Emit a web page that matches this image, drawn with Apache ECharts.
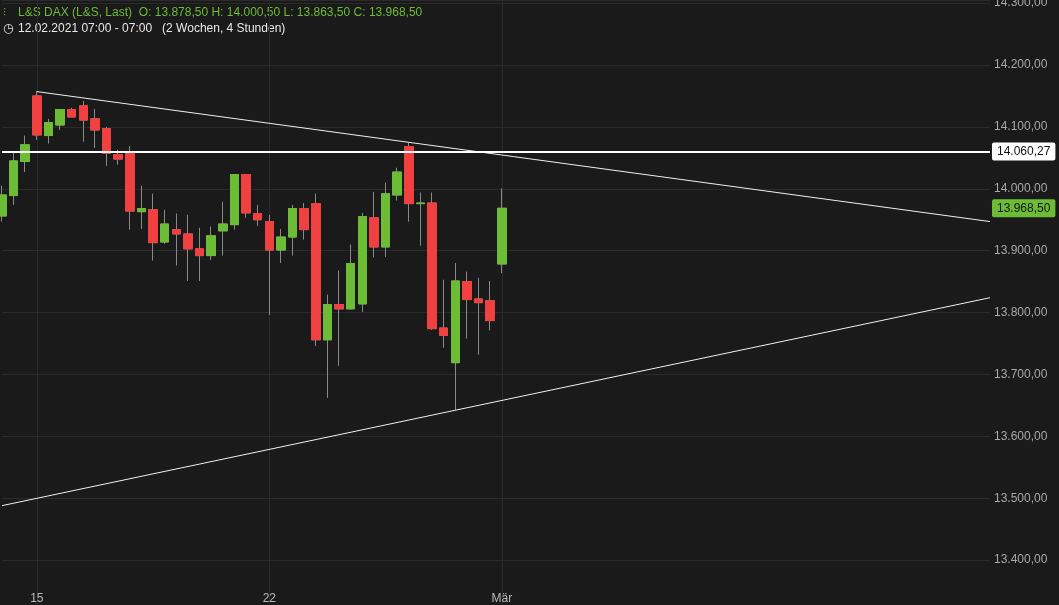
<!DOCTYPE html>
<html>
<head>
<meta charset="utf-8">
<script src="https://cdn.jsdelivr.net/npm/echarts@6/dist/echarts.min.js"></script>
<style>
html,body{margin:0;padding:0;background:#1a1a1a;}
#main{width:1059px;height:605px;}
</style>
</head>
<body>
<div id="main"></div>
<script>
// 4h candles, L&S DAX, 12.02.2021 - 01.03.2021
var days = ['12', '15', '16', '17', '18', '19', '22', '23', '24', '25', '26', 'Mär'];
var dayLabels = { '15': '15', '22': '22', 'Mär': 'Mär' };
var opens  = [13956,13989,14044, 14150,14086,14103,14128, 14134,14113,14097,14055, 14060,13963,13966,13914, 13934,13927,13903,13892, 13932,13942,14023,13960, 13947,13901,13922,13968, 13976,13756,13813,13806, 13814,13953,13906,13990, 14068,13976,13977,13775, 13719,13850,13822,13819, 13878.5];
var closes = [13990,14045,14071, 14087,14107,14128,14116, 14111,14095,14057,14048, 13964,13968,13913,13943, 13927,13903,13892,13924, 13943,14023,13961,13950, 13901,13922,13968,13934, 13756,13813,13806,13879, 13955,13906,13992,14027, 13976,13977,13774,13763, 13851,13821,13816,13787, 13968.5];
var lows   = [13947,13974,14027, 14079,14073,14095,14116, 14076,14066,14037,14039, 13934,13935,13884,13911, 13876,13851,13851,13885, 13892,13934,13953,13940, 13796,13880,13892,13918, 13746,13662,13714,13805, 13801,13889,13890,13981, 13947,13908,13772,13743, 13643,13758,13732,13771, 13863.5];
var highs  = [14005,14060,14086, 14158,14113,14129,14131, 14142,14129,14100,14063, 14069,14005,13992,13966, 13960,13958,13937,13939, 13979,14024,14024,13974, 13958,13935,13974,13977, 13992,13829,13868,13910, 13961,13995,14010,14034, 14074,13994,13994,13853, 13880,13866,13856,13851, 14000.5];
var slotsPerDay = 4;
var totalSlots = 86;
var hLine = 14060.27;
var lastClose = 13968.50;
var upperTrend = [[3, 14157], [85, 13947]];
var lowerTrend = [[0, 13488], [85, 13824]];

var cats = [];
for (var i = 0; i < totalSlots; i++) {
  var d = Math.floor((i + 1) / slotsPerDay);
  var first = (i + 1) % slotsPerDay === 0;
  var name = days[d] !== undefined ? days[d] : 'x' + d;
  cats.push(first && dayLabels[name] ? dayLabels[name] : (name + '_' + i));
}
var wickData = [], bodyData = [];
for (var i = 0; i < totalSlots; i++) {
  if (i < opens.length) {
    wickData.push([opens[i], closes[i], lows[i], highs[i]]);
    bodyData.push([opens[i], closes[i], Math.min(opens[i], closes[i]), Math.max(opens[i], closes[i])]);
  } else {
    wickData.push('-');
    bodyData.push('-');
  }
}
function isDayLabel(idx, val) { return dayLabels[val] !== undefined; }
function fmt(v) {
  var s = v.toFixed(2).split('.');
  return s[0].replace(/\B(?=(\d{3})+(?!\d))/g, '.') + ',' + s[1];
}

var myChart = echarts.init(document.getElementById('main'));
var option = {
  backgroundColor: '#1a1a1a',
  animation: false,
  grid: { left: 2, right: 69, top: 0, height: 622, outerBoundsMode: 'none', containLabel: false },
  graphic: [
    { type: 'text', left: 3, top: 7, style: { text: '⫶', fill: '#6cbd35', font: '12px "Liberation Sans"' } },
    { type: 'text', left: 18, top: 7, style: { text: 'L&S DAX (L&S, Last)  O: 13.878,50 H: 14.000,50 L: 13.863,50 C: 13.968,50', fill: '#6cbd35', font: '12px "Liberation Sans"' } },
    { type: 'text', left: 3, top: 23, style: { text: '◷', fill: '#e0e0e0', font: '12px "DejaVu Sans"' } },
    { type: 'text', left: 18, top: 23, style: { text: '12.02.2021 07:00 - 07:00   (2 Wochen, 4 Stunden)', fill: '#e8e8e8', font: '12px "Liberation Sans"' } }
  ],
  xAxis: {
    type: 'category',
    data: cats,
    boundaryGap: false,
    offset: -33,
    axisLine: { show: false },
    axisTick: { show: false },
    axisLabel: { interval: isDayLabel, color: '#bbbbbb', fontSize: 12, fontFamily: 'Liberation Sans', margin: 4 },
    splitLine: { show: true, interval: isDayLabel, lineStyle: { color: '#2a2a2a' } }
  },
  yAxis: {
    type: 'value',
    position: 'right',
    min: 13300,
    max: 14305,
    interval: 100,
    axisLine: { show: false },
    axisTick: { show: false },
    axisLabel: { color: '#a8a8a8', fontSize: 12, fontFamily: 'Liberation Sans', margin: 4, formatter: fmt },
    splitLine: { lineStyle: { color: '#2a2a2a' } }
  },
  series: [
    {
      type: 'candlestick',
      data: wickData,
      barWidth: 9,
      itemStyle: { color: '#8a8a8a', color0: '#8a8a8a', borderColor: '#8a8a8a', borderColor0: '#8a8a8a', borderWidth: 1 },
      markLine: {
        silent: true,
        symbol: 'none',
        animation: false,
        data: [
          [{ coord: upperTrend[0] }, { coord: upperTrend[1] }],
          [{ coord: lowerTrend[0] }, { coord: lowerTrend[1] }]
        ],
        lineStyle: { color: '#f0f0f0', width: 1, type: 'solid' },
        label: { show: false }
      }
    },
    {
      type: 'candlestick',
      data: bodyData,
      barWidth: 9,
      itemStyle: { color: '#6cbd35', color0: '#f04040', borderColor: '#6cbd35', borderColor0: '#f04040', borderWidth: 1 },
      markLine: {
        silent: true,
        symbol: 'none',
        animation: false,
        data: [
          {
            yAxis: hLine,
            lineStyle: { color: '#ffffff', width: 2, type: 'solid' },
            label: { show: true, position: 'end', formatter: fmt(hLine), backgroundColor: '#ffffff', color: '#111', padding: [3, 5], borderRadius: 2, fontSize: 12, fontFamily: 'Liberation Sans', distance: 2 }
          },
          {
            yAxis: lastClose,
            lineStyle: { color: 'rgba(0,0,0,0)', width: 1 },
            label: { show: true, position: 'end', formatter: fmt(lastClose), backgroundColor: '#6cbd35', color: '#111', padding: [3, 5], borderRadius: 2, fontSize: 12, fontFamily: 'Liberation Sans', distance: 2 }
          }
        ]
      }
    }
  ]
};
myChart.setOption(option);
</script>
</body>
</html>
